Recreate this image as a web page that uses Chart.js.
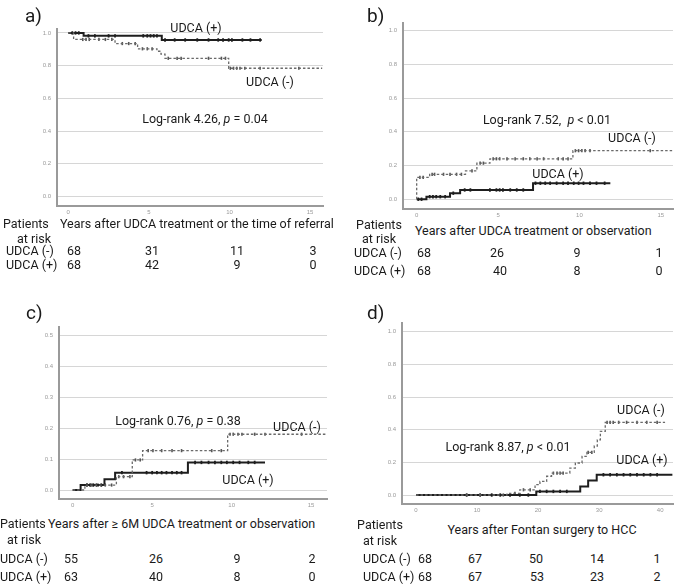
<!DOCTYPE html>
<html><head><meta charset="utf-8">
<script src="https://cdn.jsdelivr.net/npm/chart.js@4.4.1/dist/chart.umd.min.js"></script>
<style>
html,body{margin:0;padding:0;background:#fff;}
#fig{position:relative;width:678px;height:586px;overflow:hidden;font-family:Roboto,"Noto Sans",sans-serif;color:#1a1a1a;}
canvas{position:absolute;}
.t{position:absolute;white-space:nowrap;font-size:12.5px;line-height:14px;}
.big{font-size:19px;line-height:20px;}
</style></head><body><div id="fig"></div>
<script>
// ---------------- DATA ----------------
// Panel a (survival)
const aMinusTime = [0, 0.33, 2.9, 4.3, 5.5, 5.75, 6.0, 9.95, 15.75];
const aMinusVal  = [1.0, 0.96, 0.935, 0.903, 0.888, 0.87, 0.845, 0.784, 0.784];
const aPlusTime  = [0, 0.95, 5.8, 12.0];
const aPlusVal   = [1.0, 0.982, 0.957, 0.957];
const aMinusCens = [0.9, 1.1, 1.3, 1.9, 2.3, 2.7, 3.35, 3.75, 4.15, 4.6, 4.9, 5.2, 6.2, 6.75, 7.0, 8.7, 9.5, 9.75, 10.05, 10.25, 10.45, 10.65, 10.95, 11.9, 14.3];
const aPlusCens  = [0.25, 0.45, 0.65, 1.25, 1.65, 2.5, 2.9, 4.65, 4.9, 5.1, 5.3, 5.5, 6.0, 6.6, 7.25, 8.0, 8.7, 9.3, 9.6, 9.95, 10.15, 10.8, 11.3, 11.9];
// Panel b (cumulative incidence)
const bMinusTime = [0, 0, 0.8, 3.0, 3.7, 4.5, 9.6, 15.75];
const bMinusVal  = [0, 0.13, 0.148, 0.168, 0.214, 0.24, 0.288, 0.288];
const bPlusTime  = [0, 0.6, 2.05, 2.67, 7.15, 11.9];
const bPlusVal   = [0, 0.015, 0.036, 0.055, 0.095, 0.095];
const bMinusCens = [0.2, 0.4, 0.95, 1.1, 1.65, 2.05, 2.45, 2.75, 3.4, 3.9, 4.1, 4.7, 4.9, 5.1, 5.55, 6.05, 6.55, 6.95, 7.4, 7.8, 8.7, 9.0, 9.3, 9.75, 9.95, 10.15, 10.35, 10.65, 14.35];
const bPlusCens  = [0.1, 0.3, 0.8, 1.0, 1.2, 1.45, 1.75, 2.25, 2.95, 3.3, 4.5, 4.9, 5.1, 5.3, 5.75, 6.15, 6.55, 7.3, 7.6, 7.9, 8.2, 8.6, 9.0, 9.3, 9.65, 9.95, 10.25, 10.65, 11.05, 11.55];
// Panel c
const cMinusTime = [0, 0.77, 2.75, 3.75, 4.4, 9.75, 16.0];
const cMinusVal  = [0, 0.016, 0.043, 0.097, 0.127, 0.18, 0.18];
const cPlusTime  = [0, 0.5, 2.0, 2.67, 7.25, 12.1];
const cPlusVal   = [0, 0.016, 0.035, 0.056, 0.089, 0.089];
const cMinusCens = [1.2, 1.6, 2.05, 2.45, 2.9, 3.2, 3.6, 3.95, 4.25, 4.75, 5.05, 5.6, 6.25, 6.85, 8.75, 9.35, 9.9, 10.1, 10.4, 10.65, 11.45, 12.1, 14.4];
const cPlusCens  = [0.9, 1.1, 1.3, 1.5, 1.8, 3.1, 4.65, 5.0, 5.3, 5.6, 5.9, 6.25, 6.55, 6.85, 7.7, 8.1, 8.55, 8.95, 9.35, 9.7, 10.1, 10.5, 11.05, 11.45];
// Panel d
const dMinusTime = [0, 14.9, 17.0, 19.5, 20.3, 21.4, 22.2, 25.2, 26.1, 27.2, 28.0, 29.2, 29.7, 30.2, 31.0, 40.8];
const dMinusVal  = [0, 0.01, 0.032, 0.063, 0.083, 0.115, 0.134, 0.165, 0.196, 0.237, 0.261, 0.30, 0.338, 0.39, 0.445, 0.445];
const dPlusTime  = [0, 19.7, 26.9, 28.2, 29.6, 42.0];
const dPlusVal   = [0, 0.022, 0.052, 0.089, 0.124, 0.124];
const dMinusCens = [14.3, 16.2, 17.6, 18.7, 22.5, 23.1, 23.6, 24.1, 28.2, 28.8, 31.3, 31.8, 32.3, 33.2, 34.5, 36.2, 37.8, 39.5];
const dPlusCens  = [8.3, 10.5, 12.4, 13.8, 15.4, 17.0, 18.4, 20.3, 21.4, 22.5, 23.6, 24.7, 30.7, 31.8, 32.9, 34.0, 35.1, 36.2, 37.3, 38.4, 39.5];

// tick labels
const xTicks15 = [0, 5, 10, 15];
const xTicks40 = [0, 10, 20, 30, 40];
const yTicks10 = [0, 0.2, 0.4, 0.6, 0.8, 1.0];
const yTicks05 = [0, 0.1, 0.2, 0.3, 0.4, 0.5];

// patients at risk
const riskAMinus = [68, 31, 11, 3];
const riskAPlus  = [68, 42, 9, 0];
const riskBMinus = [68, 26, 9, 1];
const riskBPlus  = [68, 40, 8, 0];
const riskCMinus = [55, 26, 9, 2];
const riskCPlus  = [63, 40, 8, 0];
const riskDMinus = [68, 67, 50, 14, 1];
const riskDPlus  = [68, 67, 53, 23, 2];

// ---------------- LAYOUT ----------------
const fig = document.getElementById('fig');
function txt(html, x, y, align, cls) {
  const d = document.createElement('div');
  d.className = cls || 't';
  d.innerHTML = html;
  d.style.left = x + 'px';
  d.style.top = y + 'px';
  const tx = align === 'l' ? '0' : (align === 'r' ? '-100%' : '-50%');
  d.style.transform = 'translate(' + tx + ',-50%)';
  fig.appendChild(d);
}
function stepAt(times, vals, t) {
  let v = vals[0];
  for (let i = 0; i < times.length; i++) if (times[i] <= t) v = vals[i];
  return v;
}
function pts(times, vals) { return times.map((t, i) => ({x: t, y: vals[i]})); }
function cens(c, times, vals) { return c.map(t => ({x: t, y: stepAt(times, vals, t)})); }

function makeChart(box, xr, yr, xt, yt, minus, plus) {
  const padL = 30, padT = 10, padR = 6, padB = 14;
  const cv = document.createElement('canvas');
  const W = box.R - box.L + padL + padR, H = box.B - box.T + padT + padB;
  cv.width = W; cv.height = H;
  cv.style.left = (box.L - padL) + 'px';
  cv.style.top = (box.T - padT) + 'px';
  cv.style.width = W + 'px'; cv.style.height = H + 'px';
  fig.appendChild(cv);
  const dark = '#1e1e1e', gray = '#6a6a6a';
  new Chart(cv.getContext('2d'), {
    type: 'line',
    data: {datasets: [
      {data: pts(minus.t, minus.v), stepped: true, borderColor: gray, borderWidth: 1.3, borderDash: [2.5, 2], pointRadius: 0, fill: false},
      {data: pts(plus.t, plus.v), stepped: true, borderColor: dark, borderWidth: 2, pointRadius: 0, fill: false},
      {data: cens(minus.c, minus.t, minus.v), showLine: false, pointStyle: 'line', rotation: 90, pointRadius: 1.6, pointBorderWidth: 1.6, pointBorderColor: '#555', borderColor: gray},
      {data: cens(plus.c, plus.t, plus.v), showLine: false, pointStyle: 'line', rotation: 90, pointRadius: 1.7, pointBorderWidth: 1.8, pointBorderColor: dark, borderColor: dark}
    ]},
    options: {
      animation: false, responsive: false, devicePixelRatio: 1,
      layout: {padding: {left: 0, top: padT, right: padR, bottom: 0}},
      plugins: {legend: {display: false}, tooltip: {enabled: false}},
      scales: {
        x: {type: 'linear', min: xr[0], max: xr[1],
          afterBuildTicks: s => { s.ticks = xt.map(v => ({value: v})); },
          afterFit: s => { s.height = padB; },
          grid: {display: false, drawTicks: false},
          border: {display: true, color: '#9a9a9a', width: 2},
          ticks: {font: {size: 6, family: 'Liberation Sans'}, color: '#9a9a9a', padding: 3, maxRotation: 0, callback: v => String(v)}},
        y: {type: 'linear', min: yr[0], max: yr[1],
          afterBuildTicks: s => { s.ticks = yt.map(v => ({value: v})); },
          afterFit: s => { s.width = padL; },
          grid: {color: '#d6d6d6', lineWidth: 1, drawTicks: false},
          border: {display: true, color: '#9a9a9a', width: 2},
          ticks: {font: {size: 6, family: 'Liberation Sans'}, color: '#9a9a9a', padding: 6, callback: v => Number(v).toFixed(1)}}
      }
    }
  });
}

// Panels
makeChart({L: 57, R: 323, T: 29, B: 206}, [-0.7, 15.8], [-0.058, 1.024], xTicks15, yTicks10,
  {t: aMinusTime, v: aMinusVal, c: aMinusCens}, {t: aPlusTime, v: aPlusVal, c: aPlusCens});
makeChart({L: 403, R: 673, T: 23, B: 209}, [-0.84, 15.75], [-0.058, 1.046], xTicks15, yTicks10,
  {t: bMinusTime, v: bMinusVal, c: bMinusCens}, {t: bPlusTime, v: bPlusVal, c: bPlusCens});
makeChart({L: 59, R: 327, T: 327, B: 499}, [-0.86, 16.0], [-0.029, 0.526], xTicks15, yTicks05,
  {t: cMinusTime, v: cMinusVal, c: cMinusCens}, {t: cPlusTime, v: cPlusVal, c: cPlusCens});
makeChart({L: 402, R: 673, T: 323, B: 504}, [-2.3, 42.1], [-0.055, 1.053], xTicks40, yTicks10,
  {t: dMinusTime, v: dMinusVal, c: dMinusCens}, {t: dPlusTime, v: dPlusVal, c: dPlusCens});

// ---------------- TEXT ----------------
// panel a
txt('a)', 25, 15.5, 'l', 't big');
txt('UDCA (+)', 196, 27.5);
txt('UDCA (-)', 270, 82);
txt('Log-rank 4.26, <i>p</i> = 0.04', 205, 118.5);
txt('Patients', 3, 224, 'l');
txt('at risk', 17, 239, 'l');
txt('Years after UDCA treatment or the time of referral', 60, 224, 'l');
txt('UDCA (-)', 6, 251, 'l');
txt('UDCA (+)', 6, 265, 'l');
const posA = [74, 152, 237, 313];
riskAMinus.forEach((n, i) => txt(String(n), posA[i], 251));
riskAPlus.forEach((n, i) => txt(String(n), posA[i], 265));
// panel b
txt('b)', 367, 15.5, 'l', 't big');
txt('Log-rank 7.52,&nbsp; <i>p</i> &lt; 0.01', 547, 119.5);
txt('UDCA (-)', 632, 138);
txt('UDCA (+)', 558, 174);
txt('Patients', 379, 225);
txt('at risk', 379, 239);
txt('Years after UDCA treatment or observation', 415, 231, 'l');
txt('UDCA (-)', 354, 253, 'l');
txt('UDCA (+)', 354, 271, 'l');
const posB = [424, 497, 577, 659];
riskBMinus.forEach((n, i) => txt(String(n), posB[i], 253));
riskBPlus.forEach((n, i) => txt(String(n), posB[i] + (i === 1 ? 3 : 0), 271));
// panel c
txt('c)', 26, 312.5, 'l', 't big');
txt('Log-rank 0.76, <i>p</i> = 0.38', 178, 421);
txt('UDCA (-)', 297, 427);
txt('UDCA (+)', 248, 480);
txt('Patients', 0, 524, 'l');
txt('at risk', 7, 540, 'l');
txt('Years after ≥ 6M UDCA treatment or observation', 48, 524, 'l');
txt('UDCA (-)', 0, 559, 'l');
txt('UDCA (+)', 0, 577, 'l');
const posC = [71, 156, 237, 312];
riskCMinus.forEach((n, i) => txt(String(n), posC[i], 559));
riskCPlus.forEach((n, i) => txt(String(n), posC[i], 577));
// panel d
txt('d)', 367, 312.5, 'l', 't big');
txt('UDCA (-)', 641, 409.5);
txt('Log-rank 8.87, <i>p</i> &lt; 0.01', 508, 447);
txt('UDCA (+)', 642, 459.5);
txt('Patients', 380, 525);
txt('at risk', 380, 541);
txt('Years after Fontan surgery to HCC', 542, 530);
txt('UDCA (-)', 363, 559, 'l');
txt('UDCA (+)', 363, 577, 'l');
const posD = [425, 475, 536, 597, 657];
riskDMinus.forEach((n, i) => txt(String(n), posD[i], 559));
riskDPlus.forEach((n, i) => txt(String(n), posD[i] + (i === 2 ? 1 : 0), 577));
</script>
</body></html>
